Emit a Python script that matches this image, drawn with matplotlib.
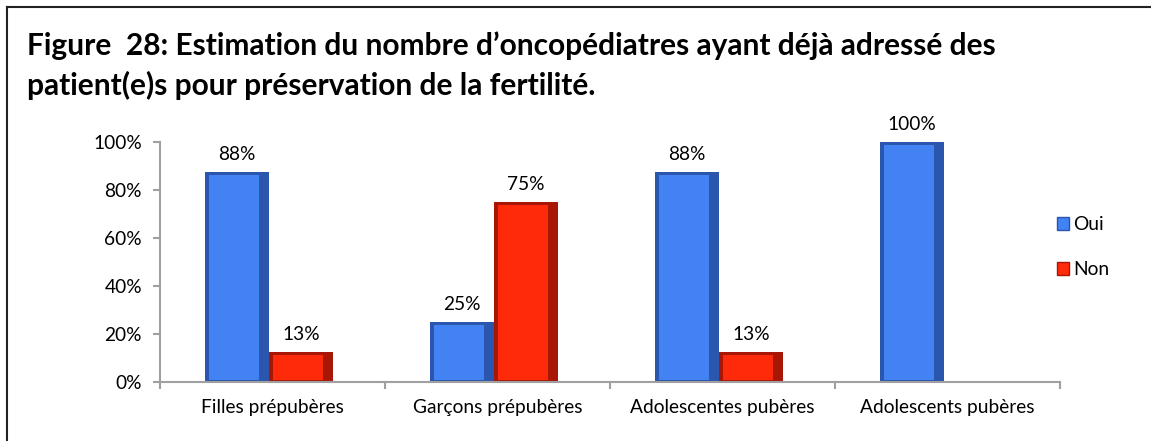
import numpy as np
import matplotlib
matplotlib.use("Agg")
import matplotlib.pyplot as plt
from matplotlib.lines import Line2D
from matplotlib.patches import Patch

plt.rcParams['font.family'] = ['Lato', 'DejaVu Sans']

# Data
categories = ["Filles prépubères", "Garçons prépubères", "Adolescentes pubères", "Adolescents pubères"]
oui = np.array([0.875, 0.25, 0.875, 1.0])
non = np.array([0.125, 0.75, 0.125, 0.0])
oui_labels = ["88%", "25%", "88%", "100%"]
non_labels = ["13%", "75%", "13%", ""]
yticks = [0, 0.2, 0.4, 0.6, 0.8, 1.0]
ytick_labels = ["0%", "20%", "40%", "60%", "80%", "100%"]
title = ("Figure  28: Estimation du nombre d\u2019oncopédiatres ayant déjà adressé des\n"
         "patient(e)s pour préservation de la fertilité.")

FS = 13.8


def bevel_bars(ax, x, vals, w, face, dark):
    # dark body + lighter inner face for a cheap 3D look
    ax.bar(x, vals, w, color=dark, zorder=2)
    inner = np.clip(vals - 0.02, 0, None)
    ax.bar(x - w * 0.05, inner, w * 0.78, bottom=np.where(vals > 0, 0.008, 0), color=face, zorder=3)


fig = plt.figure(figsize=(11.51, 4.41), dpi=100)
ax = fig.add_axes([0.139, 0.134, 0.782, 0.544])

x = np.arange(len(categories))
w = 0.284
shift = -0.015

blue, blue_dark = "#4282F2", "#2A56AE"
red, red_dark = "#FF2A0A", "#A81606"

bevel_bars(ax, x + shift - w / 2, oui, w, blue, blue_dark)
bevel_bars(ax, x + shift + w / 2, non, w, red, red_dark)

for xi, v, lab in zip(x, oui, oui_labels):
    ax.text(xi + shift - w / 2, v + 0.072, lab, ha='center', va='center', fontsize=FS)
for xi, v, lab in zip(x, non, non_labels):
    ax.text(xi + shift + w / 2, v + 0.072, lab, ha='center', va='center', fontsize=FS)

ax.set_xlim(-0.5, len(categories) - 0.5)
ax.set_ylim(0, 1.0)
ax.set_yticks(yticks)
ax.set_yticklabels(ytick_labels, fontsize=FS)
ax.set_xticks(x)
ax.set_xticklabels(categories, fontsize=FS)
ax.set_xticks(np.arange(-0.5, len(categories)), minor=True)
ax.tick_params(axis='x', which='major', length=0, pad=12)
ax.tick_params(axis='x', which='minor', length=5, width=1.5, color="#A0A0A0")
ax.tick_params(axis='y', length=5, width=1.5, color="#A0A0A0", pad=8)

for s in ['top', 'right']:
    ax.spines[s].set_visible(False)
for s in ['left', 'bottom']:
    ax.spines[s].set_color("#A0A0A0")
    ax.spines[s].set_linewidth(1.5)

handles = [Patch(facecolor=blue, edgecolor=blue_dark), Patch(facecolor=red, edgecolor=red_dark)]
fig.legend(handles, ["Oui", "Non"], loc='center left', bbox_to_anchor=(0.903, 0.44),
           frameon=False, fontsize=FS, handlelength=0.65, handleheight=0.65,
           handletextpad=0.2, labelspacing=1.45)

fig.text(0.0235, 0.851, title, fontsize=21.5, fontweight='bold', ha='left', va='center',
         linespacing=1.42)

# frame lines (top and left only visible in the crop)
fig.add_artist(Line2D([0.006, 1.0], [0.984, 0.984], color="#222222", lw=1.5, transform=fig.transFigure))
fig.add_artist(Line2D([0.0065, 0.0065], [0.0, 0.984], color="#222222", lw=1.5, transform=fig.transFigure))

fig.savefig("out.png", dpi=100)
